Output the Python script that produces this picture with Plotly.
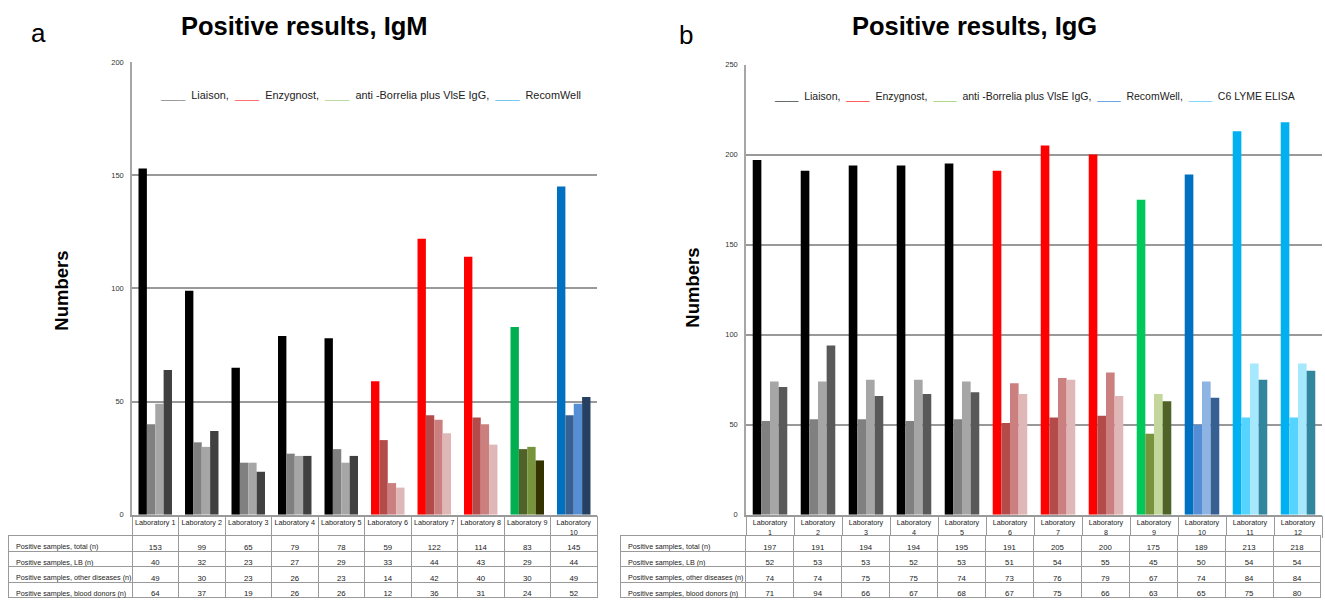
import plotly.graph_objects as go

W, H = 1325, 603

# ---------------- data ----------------
igm_labs = [f"Laboratory {i}" for i in range(1, 11)]
igm_assay = ["Liaison"] * 5 + ["Enzygnost"] * 3 + ["antiBorrelia", "RecomWell"]
igm_total = [153, 99, 65, 79, 78, 59, 122, 114, 83, 145]
igm_lb = [40, 32, 23, 27, 29, 33, 44, 43, 29, 44]
igm_other = [49, 30, 23, 26, 23, 14, 42, 40, 30, 49]
igm_donors = [64, 37, 19, 26, 26, 12, 36, 31, 24, 52]

igg_labs = [f"Laboratory {i}" for i in range(1, 13)]
igg_assay = ["Liaison"] * 5 + ["Enzygnost"] * 3 + ["antiBorrelia", "RecomWell", "C6", "C6"]
igg_total = [197, 191, 194, 194, 195, 191, 205, 200, 175, 189, 213, 218]
igg_lb = [52, 53, 53, 52, 53, 51, 54, 55, 45, 50, 54, 54]
igg_other = [74, 74, 75, 75, 74, 73, 76, 79, 67, 74, 84, 84]
igg_donors = [71, 94, 66, 67, 68, 67, 75, 66, 63, 65, 75, 80]

row_labels = ["Positive samples, total (n)", "Positive samples, LB (n)",
              "Positive samples, other diseases (n)", "Positive samples, blood donors (n)"]
series_names = ["total", "LB", "other diseases", "blood donors"]

igm_yticks = [0, 50, 100, 150, 200]
igg_yticks = [0, 50, 100, 150, 200, 250]

# ---------------- styles ----------------
igm_colors = {
    "Liaison": ["#000000", "#808080", "#a6a6a6", "#404040"],
    "Enzygnost": ["#ff0000", "#b34b4b", "#cc7f7f", "#e0b7b7"],
    "antiBorrelia": ["#00b050", "#4f6228", "#77933c", "#333300"],
    "RecomWell": ["#0070c0", "#376092", "#558ed5", "#254061"],
}
igg_colors = {
    "Liaison": ["#000000", "#808080", "#a6a6a6", "#595959"],
    "Enzygnost": ["#ff0000", "#b34b4b", "#cc7f7f", "#e0b7b7"],
    "antiBorrelia": ["#00c85a", "#77933c", "#c3d69b", "#4f6228"],
    "RecomWell": ["#0070c0", "#558ed5", "#8eb4e3", "#376092"],
    "C6": ["#00b0f0", "#55d4ff", "#a6e8fd", "#31859c"],
}

FONT = "Liberation Sans, Arial, Helvetica, sans-serif"
GRID = "#999999"
TLINE = "#9a9a9a"
TXT = "#222222"
NB = "\u00a0"


def px_x(v):
    return v / W


def px_y(v):
    return 1 - v / H


fig = go.Figure()

# IgM bars
for k, vals in enumerate([igm_total, igm_lb, igm_other, igm_donors]):
    fig.add_trace(go.Bar(
        x=igm_labs, y=vals, name=series_names[k],
        marker=dict(color=[igm_colors[a][k] for a in igm_assay], line=dict(width=0)),
        xaxis="x", yaxis="y", showlegend=False,
    ))
# IgG bars
for k, vals in enumerate([igg_total, igg_lb, igg_other, igg_donors]):
    fig.add_trace(go.Bar(
        x=igg_labs, y=vals, name=series_names[k],
        marker=dict(color=[igg_colors[a][k] for a in igg_assay], line=dict(width=0)),
        xaxis="x2", yaxis="y2", showlegend=False,
    ))

# invisible traces so the boundary-tick axes get drawn
fig.add_trace(go.Scatter(x=[None], y=[None], xaxis="x3", yaxis="y", showlegend=False))
fig.add_trace(go.Scatter(x=[None], y=[None], xaxis="x4", yaxis="y2", showlegend=False))

ROW_H = 15.5


# Data tables: first data row is rendered as the table "header" with cell styling
def table(cols, dom_x, widths):
    ncol = len(cols) + 1
    first = [row_labels[0].replace(" ", NB)] + [c[0] for c in cols]
    rest = [[r.replace(" ", NB) for r in row_labels[1:]]] + [c[1:] for c in cols]
    style = dict(
        height=ROW_H,
        align=["left"] + ["center"] * (ncol - 1),
        fill=dict(color="white"),
        line=dict(color=TLINE, width=1),
        font=dict(family=FONT, size=[7.2] + [7.8] * (ncol - 1), color=TXT),
    )
    return go.Table(
        domain=dict(x=dom_x, y=[0, px_y(540)]),
        columnwidth=widths,
        header=dict(values=first, **style),
        cells=dict(values=rest, **style),
    )


igm_cols = [[igm_total[i], igm_lb[i], igm_other[i], igm_donors[i]] for i in range(len(igm_labs))]
igg_cols = [[igg_total[i], igg_lb[i], igg_other[i], igg_donors[i]] for i in range(len(igg_labs))]

igm_head = [lab if i < 9 else lab.replace(" ", "<br>") for i, lab in enumerate(igm_labs)]
igg_head = [lab.replace(" ", "<br>") for lab in igg_labs]

fig.add_trace(table(igm_cols, [px_x(8), px_x(597)], [124] + [46.5] * 10))
fig.add_trace(table(igg_cols, [px_x(620), px_x(1322)], [126] + [48] * 12))

xaxis_common = dict(showgrid=False, showline=True, linecolor=GRID, linewidth=1.5,
                    ticks="", tickangle=0, ticklabelstandoff=0,
                    tickfont=dict(family=FONT, size=7.2, color=TXT), fixedrange=True)
border_axis = dict(showgrid=False, showline=False, zeroline=False, showticklabels=False,
                   ticks="outside", ticklen=22, tickwidth=1, tickcolor=TLINE,
                   type="linear", fixedrange=True)
yaxis_common = dict(showgrid=True, gridcolor=GRID, gridwidth=1.5, zeroline=False,
                    showline=True, linecolor="#a6a6a6", linewidth=1.5, ticks="",
                    tickfont=dict(family=FONT, size=7.5, color="#333333"),
                    ticklabelstandoff=5)

n1, n2 = len(igm_labs), len(igg_labs)

fig.update_layout(
    width=W, height=H,
    margin=dict(l=0, r=0, t=0, b=0),
    paper_bgcolor="white", plot_bgcolor="white",
    barmode="group", bargap=0.28, bargroupgap=0,
    showlegend=False,
    xaxis=dict(domain=[px_x(132), px_x(597)], anchor="y",
               tickvals=igm_labs, ticktext=igm_head, **xaxis_common),
    yaxis=dict(domain=[px_y(518.5), px_y(59)], anchor="x", range=[0, 200],
               tickvals=igm_yticks, **yaxis_common),
    xaxis2=dict(domain=[px_x(746), px_x(1322)], anchor="y2",
                tickvals=igg_labs, ticktext=igg_head, **xaxis_common),
    yaxis2=dict(domain=[px_y(518.5), px_y(61.5)], anchor="x2", range=[0, 250],
                tickvals=igg_yticks, **yaxis_common),
    xaxis3=dict(overlaying="x", anchor="y", range=[-0.5, n1 - 0.5],
                tickvals=[i - 0.5 for i in range(n1 + 1)], **border_axis),
    xaxis4=dict(overlaying="x2", anchor="y2", range=[-0.5, n2 - 0.5],
                tickvals=[i - 0.5 for i in range(n2 + 1)], **border_axis),
)


def ann(text, x, y, size, bold=False, angle=0, xanchor="center"):
    fig.add_annotation(
        text=f"<b>{text}</b>" if bold else text,
        x=px_x(x), y=px_y(y), xref="paper", yref="paper",
        showarrow=False, textangle=angle, xanchor=xanchor, yanchor="middle",
        font=dict(family=FONT, size=size, color="#000000"),
    )


ann("Positive results, IgM", 304, 22, 25.5, bold=True)
ann("Positive results, IgG", 975, 22, 25.5, bold=True)
ann("a", 38, 29, 26)
ann("b", 686, 31, 26)
ann("Numbers", 62, 291, 18.5, bold=True, angle=-90)
ann("Numbers", 693, 288, 18.5, bold=True, angle=-90)


def leg(items):
    parts = []
    for name, col in items:
        parts.append(f"<span style='color:{col}'>____</span>  {name}")
    return "  ".join(parts)


igm_legend = leg([("Liaison,", "#7f7f7f"), ("Enzygnost,", "#ff4a4a"),
                  ("anti -Borrelia plus VlsE IgG,", "#a9d18e"), ("RecomWell", "#4fb8ec")])
igg_legend = leg([("Liaison,", "#404040"), ("Enzygnost,", "#ff3030"),
                  ("anti -Borrelia plus VlsE IgG,", "#9bd36a"), ("RecomWell,", "#3f8fdc"),
                  ("C6 LYME ELISA", "#63d0f7")])

fig.add_annotation(text=igm_legend, x=px_x(158), y=px_y(92), xref="paper", yref="paper",
                   showarrow=False, xanchor="left", yanchor="middle",
                   font=dict(family=FONT, size=10.9, color=TXT))
fig.add_annotation(text=igg_legend, x=px_x(772), y=px_y(93), xref="paper", yref="paper",
                   showarrow=False, xanchor="left", yanchor="middle",
                   font=dict(family=FONT, size=10.5, color=TXT))

fig.write_html("out.html")
